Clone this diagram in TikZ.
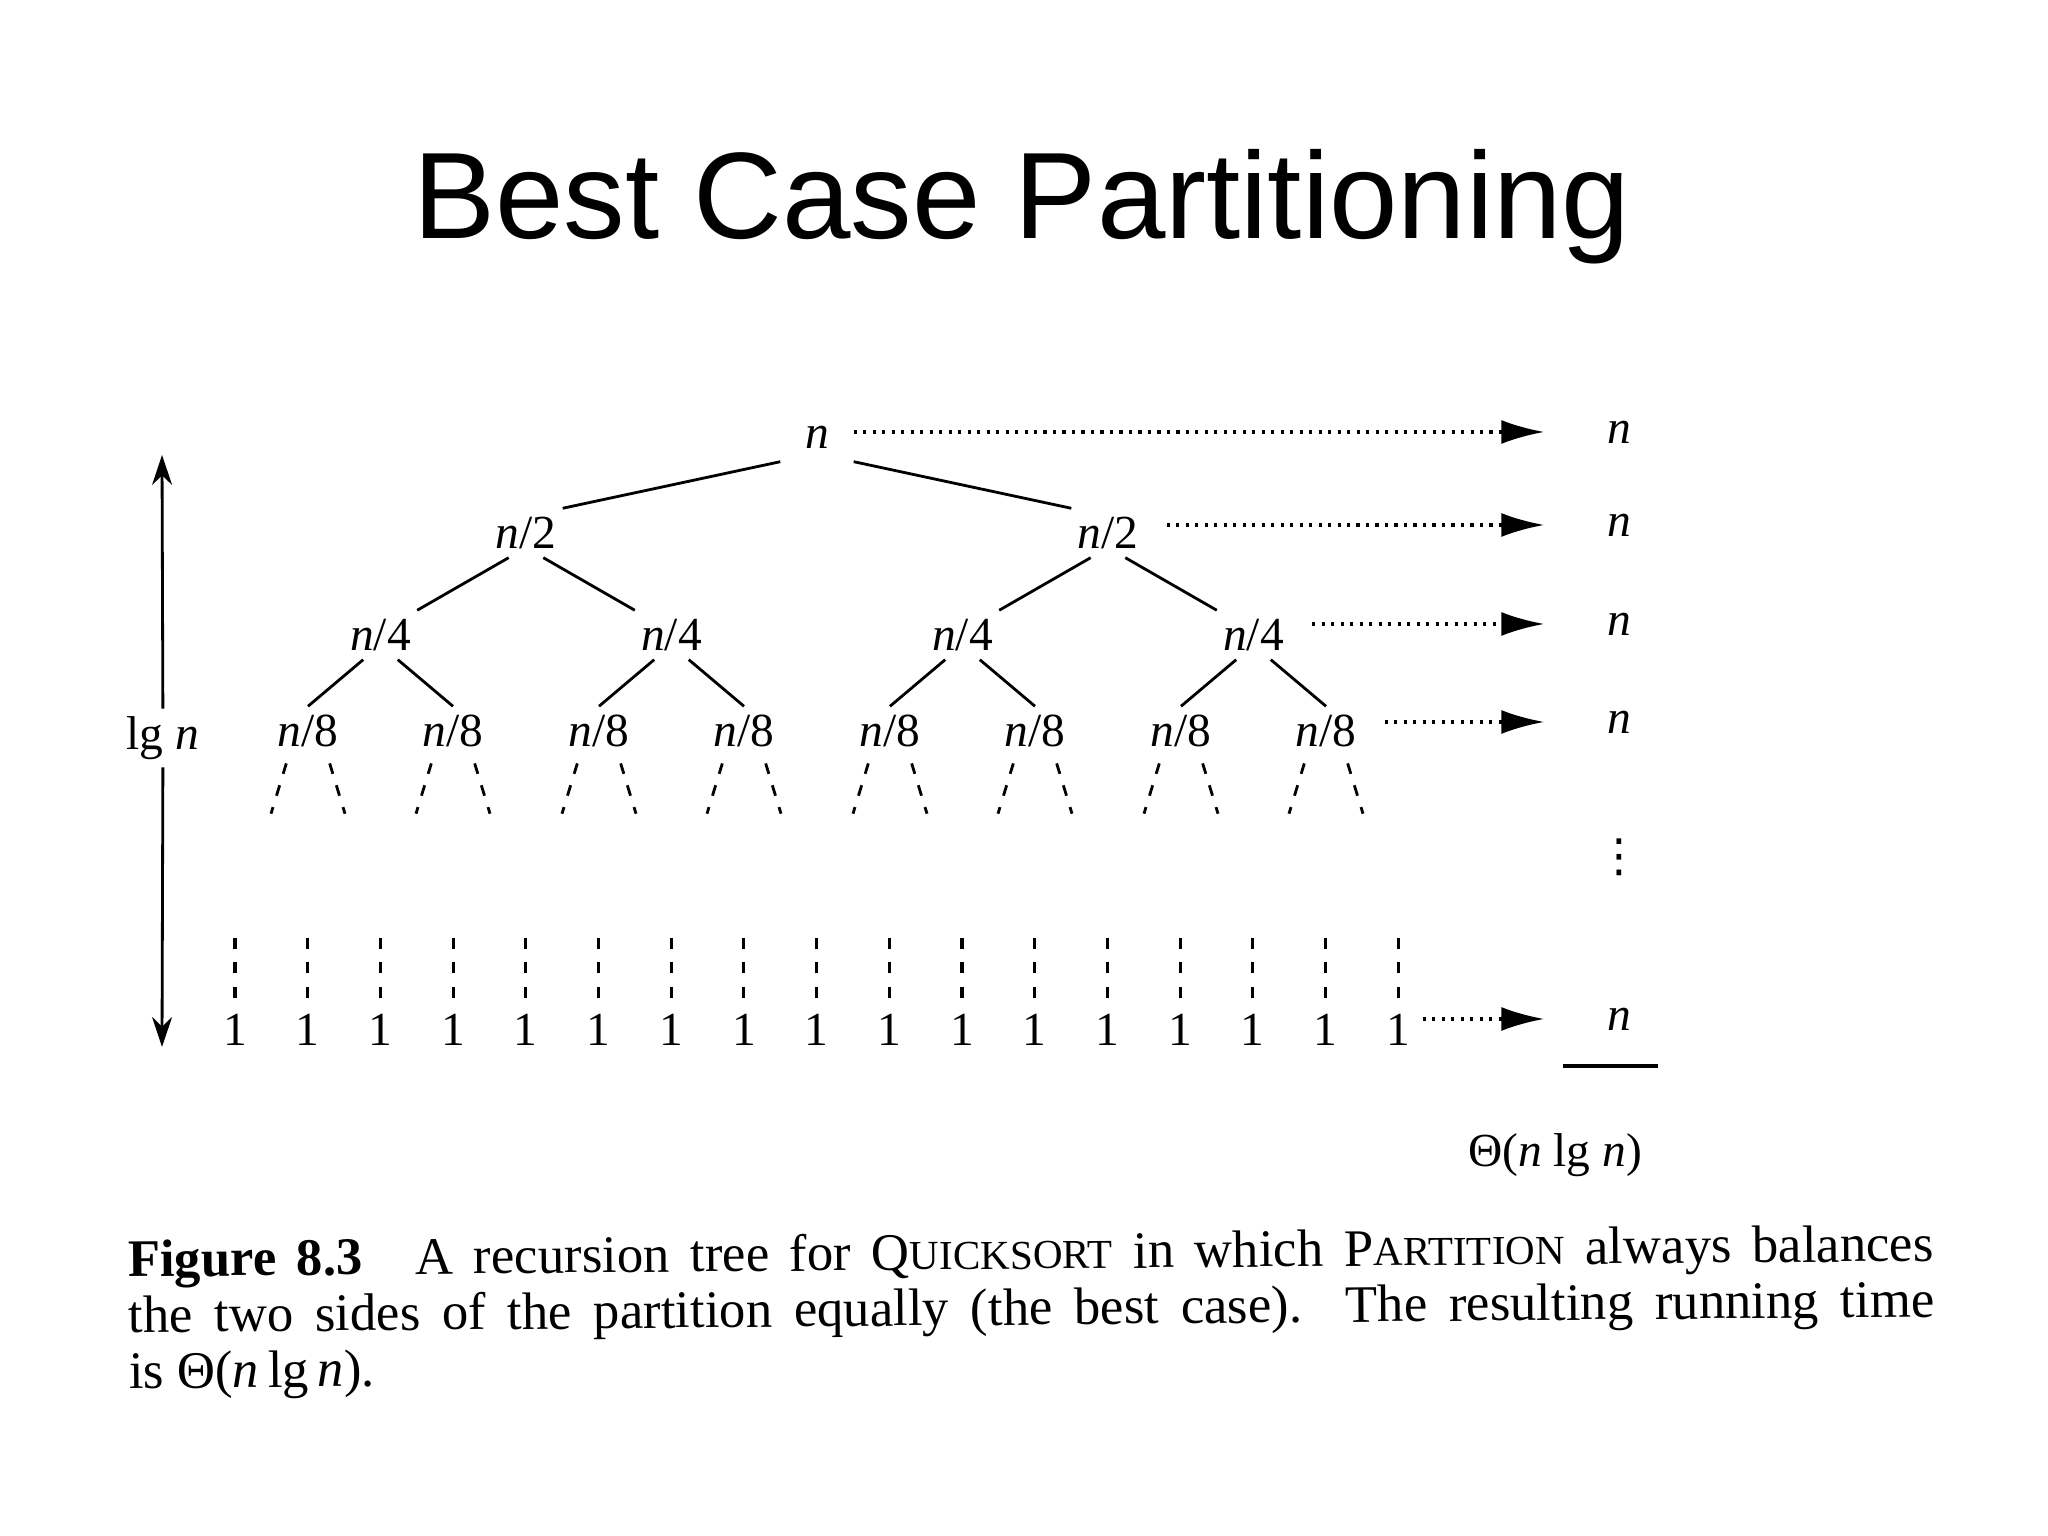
\documentclass[tikz,border=0pt]{standalone}
\usepackage{fontspec}
\setmainfont{Liberation Serif}
\newfontfamily\titlefont{Liberation Sans}
\newfontfamily\symfont{DejaVu Sans}
\usetikzlibrary{arrows.meta}
\newcommand{\smcap}[2]{#1{\fontsize{11.7}{12}\selectfont #2}}

\begin{document}
\begin{tikzpicture}[
    >={Stealth[length=3mm,width=2mm]},
    lbl/.style={font=\fontsize{13.5}{16}\selectfont, minimum width=0.72cm,
                minimum height=0.48cm, inner sep=0pt},
    leaf/.style={font=\fontsize{13.5}{16}\selectfont, inner sep=0pt},
    branch/.style={line width=0.8pt},
    subtree/.style={line width=0.8pt, dash pattern=on 3.1pt off 3.4pt, dash phase=4.2pt},
    stack/.style={line width=0.9pt, dash pattern=on 3.1pt off 3.8pt},
    sumarrow/.style={line width=0.9pt, dash pattern=on 0.9pt off 1.8pt,
                     -{Latex[length=4.3mm,width=2.4mm]},
                     shorten <=0.22cm, shorten >=0.38cm}
  ]
  \fill[white] (0,0) rectangle (20.48,15.36);
  \useasboundingbox (0,0) rectangle (20.48,15.36);

  % Title
  \node[anchor=base, font={\titlefont\fontsize{35}{40}\selectfont}] (title)
    at (10.22, 12.97) {Best Case Partitioning};

  % Tree levels
  \node[lbl] (r) at (8.17, 10.99) {\textit{n}};

  \node[lbl] (h1) at (5.26, 10.03) {\textit{n}/2};
  \node[lbl] (h2) at (11.08, 10.03) {\textit{n}/2};

  \node[lbl] (q1) at (3.805, 9.01) {\textit{n}/4};
  \node[lbl] (q2) at (6.715, 9.01) {\textit{n}/4};
  \node[lbl] (q3) at (9.625, 9.01) {\textit{n}/4};
  \node[lbl] (q4) at (12.535, 9.01) {\textit{n}/4};

  \node[lbl] (e1) at (3.08, 8.05) {\textit{n}/8};
  \node[lbl] (e2) at (4.53, 8.05) {\textit{n}/8};
  \node[lbl] (e3) at (5.99, 8.05) {\textit{n}/8};
  \node[lbl] (e4) at (7.44, 8.05) {\textit{n}/8};
  \node[lbl] (e5) at (8.90, 8.05) {\textit{n}/8};
  \node[lbl] (e6) at (10.35, 8.05) {\textit{n}/8};
  \node[lbl] (e7) at (11.81, 8.05) {\textit{n}/8};
  \node[lbl] (e8) at (13.26, 8.05) {\textit{n}/8};

  \draw[branch] (r.south west) -- (h1.north east);
  \draw[branch] (r.south east) -- (h2.north west);
  \draw[branch] (h1.-125) -- (q1.north east);
  \draw[branch] (h1.-55) -- (q2.north west);
  \draw[branch] (h2.-125) -- (q3.north east);
  \draw[branch] (h2.-55) -- (q4.north west);
  \draw[branch] (q1.-125) -- (e1.north);
  \draw[branch] (q1.-55) -- (e2.north);
  \draw[branch] (q2.-125) -- (e3.north);
  \draw[branch] (q2.-55) -- (e4.north);
  \draw[branch] (q3.-125) -- (e5.north);
  \draw[branch] (q3.-55) -- (e6.north);
  \draw[branch] (q4.-125) -- (e7.north);
  \draw[branch] (q4.-55) -- (e8.north);

  % dashed stubs below n/8
  \foreach \i in {1,...,8} {
    \path (e\i.south) ++(-0.37,-0.58) coordinate (bl\i) ++(0.74,0) coordinate (br\i);
    \draw[subtree] (e\i.-128) -- (bl\i);
    \draw[subtree] (e\i.-52) -- (br\i);
  }

  % leaves
  \foreach \j in {1,...,17} {
    \node[leaf] (o\j) at ({2.35+0.727*(\j-1)}, 5.06) {1};
    \draw[stack] (o\j.north) ++(0,0.16) -- ++(0,0.61);
  }

  % height arrow
  \coordinate (htop) at (1.62, 10.81);
  \coordinate (hbot) at (1.62, 4.89);
  \node[leaf, inner sep=2pt] (lg) at (1.63, 7.98) {lg \textit{n}};
  \draw[->, line width=0.8pt] (lg) -- (htop);
  \draw[->, line width=0.8pt] (lg) -- (hbot);

  % per-level cost
  \node[lbl] (s1) at (16.19, 11.04) {\textit{n}};
  \node[lbl] (s2) at (16.19, 10.11) {\textit{n}};
  \node[lbl] (s3) at (16.19, 9.12) {\textit{n}};
  \node[lbl] (s4) at (16.19, 8.14) {\textit{n}};
  \node[leaf, font={\symfont\fontsize{13}{14}\selectfont}] (sv) at (16.19, 6.79) {⋮};
  \node[lbl] (s5) at (16.19, 5.17) {\textit{n}};

  \draw[sumarrow, shorten <=0pt] (r.east |- s1) -- (s1);
  \draw[sumarrow] (h2.east |- s2) -- (s2);
  \draw[sumarrow] (q4.east |- s3) -- (s3);
  \draw[sumarrow] (e8.east |- s4) -- (s4);
  \draw[sumarrow, shorten <=0.12cm] (o17.east |- s5) -- (s5);

  \draw[line width=1pt] (15.63, 4.70) -- (16.58, 4.70);
  \node[leaf] (total) at (15.55, 3.81) {Θ(\textit{n} lg \textit{n})};

  % Caption
  \node[anchor=north west, text width=18.06cm, inner sep=0pt, align=justify,
        rotate=0.5, font=\fontsize{15}{15.9}\selectfont] (cap) at (1.27, 2.97)
    {\textbf{Figure 8.3}\quad A recursion tree for \smcap{Q}{UICKSORT} in which
     \smcap{P}{ARTITION} always balances\linebreak the two sides of the partition
     equally (the best case). The resulting running time\linebreak
     is Θ(\textit{n}\,lg\,\textit{n}).};
\end{tikzpicture}
\end{document}
